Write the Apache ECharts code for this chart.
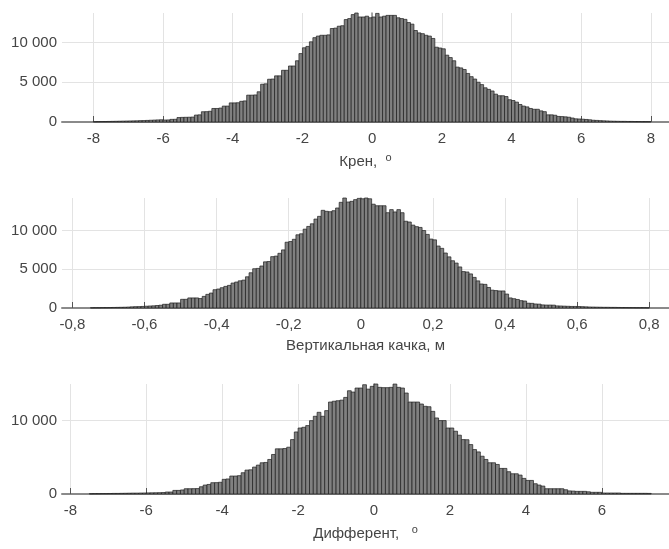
<!DOCTYPE html>
<html><head><meta charset="utf-8">
<script src="https://cdn.jsdelivr.net/npm/echarts@6/dist/echarts.min.js"></script>
<style>html,body{margin:0;padding:0;background:#fff}#c{width:669px;height:549px}</style>
</head><body><div id="c"></div>
<script>
// ---- Panel 1: Крен (bins of 0.1 starting at -8.0)
const rollBinStart = -8.0;
const rollBinWidth = 0.1;
const rollCounts = [
  40, 50, 60, 60, 70, 80, 90, 100, 110, 120,
  130, 140, 150, 170, 180, 200, 220, 240, 260, 280,
  250, 260, 330, 340, 560, 580, 590, 600, 620, 870,
  900, 1290, 1300, 1350, 1700, 1700, 1750, 2000, 2000, 2400,
  2400, 2420, 2600, 2650, 3375, 3375, 3400, 3800, 4750, 4800,
  5375, 5400, 5800, 5800, 6500, 6500, 7040, 7040, 7700, 8600,
  9330, 9500, 10080, 10600, 10800, 10900, 10900, 10950, 11750, 11800,
  12040, 12100, 12875, 13000, 13500, 13700, 13200, 13200, 13300, 13100,
  13200, 13650, 13200, 13300, 13400, 13400, 13400, 13100, 13000, 12900,
  12500, 12300, 11500, 11200, 11100, 10900, 10800, 10500, 9400, 9300,
  9200, 8400, 8100, 7700, 6900, 6800, 6600, 6100, 5700, 5400,
  5000, 4700, 4300, 4100, 3900, 3500, 3300, 3300, 3200, 2800,
  2700, 2500, 2200, 2000, 1900, 1700, 1600, 1600, 1400, 1300,
  900, 900, 850, 700, 680, 650, 600, 500, 400, 380,
  350, 320, 280, 220, 200, 170, 150, 130, 110, 100,
  90, 80, 80, 70, 70, 60, 60, 50, 50, 50
];
const rollXTicks = [-8, -6, -4, -2, 0, 2, 4, 6, 8];
const rollYTicks = [0, 5000, 10000];

// ---- Panel 2: Вертикальная качка (bins of 0.01 starting at -0.75)
const heaveBinStart = -0.75;
const heaveBinWidth = 0.01;
const heaveCounts = [
  30, 40, 40, 50, 50, 60, 70, 80, 90, 100,
  120, 150, 170, 180, 200, 230, 260, 280, 320, 360,
  480, 480, 650, 650, 650, 1120, 1120, 1300, 1300, 1300,
  1220, 1500, 1760, 1930, 2360, 2450, 2620, 2790, 2920, 3220,
  3350, 3510, 3600, 4030, 4550, 5070, 5110, 5420, 5960, 6000,
  6630, 6700, 7060, 7500, 8490, 8580, 8870, 9450, 9580, 10180,
  10530, 10870, 11480, 11830, 12610, 12480, 12430, 12560, 12910, 13640,
  14200, 13680, 13770, 13990, 14150,
  14100, 14200, 14100, 13400, 13200, 13200, 13200, 12300, 12700, 12400,
  12700, 12300, 11200, 11100, 10700, 10500, 10400, 10000, 9500, 8900,
  8800, 8000, 7700, 7100, 6600, 6100, 5800, 5300, 4700, 4650,
  4400, 3950, 3500, 3100, 3050, 2650, 2300, 2250, 2200, 2200,
  1800, 1300, 1200, 1100, 950, 900, 620, 600, 520, 500,
  400, 380, 380, 370, 270, 260, 240, 220, 200, 200,
  190, 170, 150, 130, 120, 110, 100, 90, 90, 80,
  80, 70, 60, 60, 50, 50, 40, 40, 40, 30
];
const heaveXTicks = [-0.8, -0.6, -0.4, -0.2, 0, 0.2, 0.4, 0.6, 0.8];
const heaveYTicks = [0, 5000, 10000];

// ---- Panel 3: Дифферент (bins of 0.1 starting at -7.5)
const trimBinStart = -7.5;
const trimBinWidth = 0.1;
const trimCounts = [
  40, 50, 50, 60, 60, 70, 80, 80, 90, 100,
  110, 120, 120, 130, 140, 150, 160, 170, 180, 200,
  270, 270, 490, 490, 550, 720, 720, 730, 740, 990,
  1220, 1300, 1540, 1550, 1600, 2000, 2050, 2450, 2450, 2500,
  2900, 3260, 3300, 3670, 3940, 4260, 4300, 4710, 5390, 6160,
  6160, 6200, 6380, 7420, 8460, 9000, 9100, 9330, 10000, 10600,
  11140, 10600, 11370, 12540, 12650, 12720, 12800, 13170, 14080, 13900,
  14450, 14450, 14900, 14300, 14680,
  15000, 14540, 14500, 14500, 14540, 14990, 14540, 14450, 13770, 12540,
  12540, 12540, 12270, 11960, 11900, 11270, 10370, 10010, 10010, 9000,
  9000, 8560, 8020, 7420, 7400, 6740, 6060, 5740, 5150, 4710,
  4260, 4260, 4030, 3490, 3490, 3040, 2760, 2760, 2580, 2130,
  1850, 1850, 1400, 1220, 1080, 720, 720, 720, 720, 720,
  580, 420, 400, 360, 360, 360, 300, 230, 230, 230,
  135, 135, 135, 135, 135, 90, 90, 90, 90, 90,
  90, 90, 80
];
const trimXTicks = [-8, -6, -4, -2, 0, 2, 4, 6];
const trimYTicks = [0, 10000];

const FONT = "'Liberation Sans', Arial, sans-serif";
const TXT = '#454545';
const AXC = '#8a8a8a';
const GRIDC = '#e3e3e3';

function binsData(start, width, counts) {
  return counts.map((c, i) => {
    const a = +(start + i * width).toFixed(4);
    const b = +(start + (i + 1) * width).toFixed(4);
    return [a, b, c];
  });
}
function fmtThousands(v) {
  return String(v).replace(/\B(?=(\d{3})+(?!\d))/g, ' ');
}
function fmtComma(v) {
  return String(+v.toFixed(2)).replace('.', ',');
}

const grids = [
  { left: 62, right: 0, top: 13, height: 109 },
  { left: 62, right: 0, top: 198, height: 110 },
  { left: 62, right: 0, top: 384, height: 110 }
];

function xAxisDef(idx, min, max, ticks, fmt, nameRich) {
  return {
    type: 'value', gridIndex: idx, min: min, max: max,
    position: 'bottom',
    name: nameRich, nameLocation: 'middle', nameGap: 30,
    nameTextStyle: {
      fontFamily: FONT, fontSize: 15, color: TXT,
      rich: {
        t: { fontFamily: FONT, fontSize: 15, color: TXT },
        s: { fontFamily: FONT, fontSize: 11, color: TXT, verticalAlign: 'top', padding: [0, 0, 9, 0] }
      }
    },
    axisLine: { show: true, onZero: false, lineStyle: { color: AXC, width: 2 } },
    axisTick: { show: true, inside: true, length: 6, customValues: ticks, lineStyle: { color: '#555', width: 1 } },
    axisLabel: { customValues: ticks, formatter: fmt, fontFamily: FONT, fontSize: 15, color: TXT, margin: 9 },
    splitLine: { show: true, lineStyle: { color: GRIDC, width: 1 } }
  };
}
function yAxisDef(idx, max, ticks) {
  return {
    type: 'value', gridIndex: idx, min: 0, max: max,
    axisLine: { show: true, lineStyle: { color: AXC, width: 1.5 } },
    axisTick: { show: false, customValues: ticks },
    axisLabel: { customValues: ticks, formatter: fmtThousands, fontFamily: FONT, fontSize: 15, color: TXT, margin: 5 },
    splitLine: { show: true, lineStyle: { color: GRIDC, width: 1 } }
  };
}

function renderBar(params, api) {
  const x0 = api.value(0), x1 = api.value(1), y = api.value(2);
  const p0 = api.coord([x0, y]);
  const p1 = api.coord([x1, 0]);
  return {
    type: 'rect',
    shape: { x: p0[0], y: p0[1], width: p1[0] - p0[0], height: p1[1] - p0[1] },
    style: { fill: '#808080', stroke: '#1c1c1c', lineWidth: 0.7 }
  };
}

const chart = echarts.init(document.getElementById('c'), null, { renderer: 'canvas' });
chart.setOption({
  animation: false,
  backgroundColor: '#fff',
  grid: grids,
  xAxis: [
    xAxisDef(0, -8.9, 8.52, rollXTicks, v => String(v), '{t|Крен,  }{s|o}'),
    xAxisDef(1, -0.829, 0.855, heaveXTicks, fmtComma, 'Вертикальная качка, м'),
    xAxisDef(2, -8.22, 7.77, trimXTicks, v => String(v), '{t|Дифферент,   }{s|o}')
  ],
  yAxis: [
    yAxisDef(0, 13700, rollYTicks),
    yAxisDef(1, 14200, heaveYTicks),
    yAxisDef(2, 15000, trimYTicks)
  ],
  series: [
    { type: 'custom', xAxisIndex: 0, yAxisIndex: 0, renderItem: renderBar, encode: { x: [0, 1], y: 2 }, data: binsData(rollBinStart, rollBinWidth, rollCounts) },
    { type: 'custom', xAxisIndex: 1, yAxisIndex: 1, renderItem: renderBar, encode: { x: [0, 1], y: 2 }, data: binsData(heaveBinStart, heaveBinWidth, heaveCounts) },
    { type: 'custom', xAxisIndex: 2, yAxisIndex: 2, renderItem: renderBar, encode: { x: [0, 1], y: 2 }, data: binsData(trimBinStart, trimBinWidth, trimCounts) }
  ]
});
</script>
</body></html>
